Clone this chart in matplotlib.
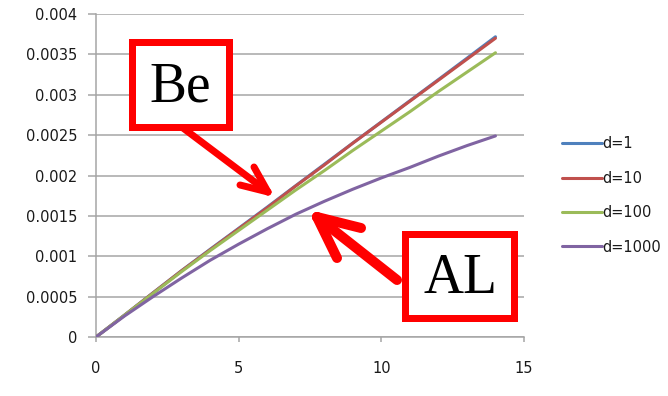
import matplotlib
matplotlib.use("Agg")
import matplotlib.pyplot as plt
from matplotlib.lines import Line2D
from matplotlib.patches import Rectangle
import numpy as np

# Data
x = [0, 1, 2, 3, 4, 5, 6, 7, 8, 9, 10, 11, 12, 13, 14]
d1 = [0, 0.000272, 0.000548, 0.000822, 0.001086, 0.001346, 0.001608, 0.001874,
      0.002138, 0.002402, 0.002664, 0.002926, 0.003188, 0.003452, 0.003718]
d10 = [0, 0.00027, 0.000546, 0.00082, 0.00108, 0.00134, 0.0016, 0.00187,
       0.00213, 0.0024, 0.00266, 0.00292, 0.00318, 0.00344, 0.0037]
d100 = [0, 0.00027, 0.00054, 0.00081, 0.00107, 0.00132, 0.00157, 0.00182,
        0.00206, 0.00231, 0.00255, 0.00279, 0.00304, 0.00328, 0.00352]
d1000 = [0, 0.00026, 0.0005, 0.00073, 0.00095, 0.00115, 0.00134, 0.00152,
         0.00168, 0.00183, 0.00197, 0.0021, 0.00224, 0.00237, 0.00249]
labels = ["d=1", "d=10", "d=100", "d=1000"]
colors = ["#4F81BD", "#C0504D", "#9BBB59", "#8064A2"]

xticks = [0, 5, 10, 15]
yticks = [0, 0.0005, 0.001, 0.0015, 0.002, 0.0025, 0.003, 0.0035, 0.004]
yticklabels = ["0", "0.0005", "0.001", "0.0015", "0.002", "0.0025", "0.003", "0.0035", "0.004"]

W, H = 668, 396
fig = plt.figure(figsize=(W / 100, H / 100), dpi=100)
fig.patch.set_facecolor("white")


def fx(px):
    return px / W


def fy(py):
    return 1 - py / H


ax = fig.add_axes([fx(96), fy(337), fx(524) - fx(96), fy(14) - fy(337)])

grid_c = "#a5a5a5"
text_c = "#1a1a1a"

for series, lab, c in zip([d1, d10, d100, d1000], labels, colors):
    ax.plot(x, series, color=c, lw=2.2, label=lab, solid_capstyle="round", zorder=3)

ax.set_xlim(0, 15)
ax.set_ylim(0, 0.004)
ax.set_xticks(xticks)
ax.set_xticklabels([str(t) for t in xticks])
ax.set_yticks(yticks)
ax.set_yticklabels(yticklabels)
ax.yaxis.grid(True, color=grid_c, lw=1.1)
ax.set_axisbelow(True)
for s in ["top", "right"]:
    ax.spines[s].set_visible(False)
for s in ["left", "bottom"]:
    ax.spines[s].set_color(grid_c)
    ax.spines[s].set_linewidth(1.1)
ax.tick_params(axis="y", direction="out", length=5.8, width=1.1, color=grid_c,
               pad=7.7, labelsize=10.5, labelcolor=text_c)
ax.tick_params(axis="x", direction="out", length=3.6, width=1.1, color=grid_c,
               pad=13.5, labelsize=10.5, labelcolor=text_c)

leg = fig.legend(loc="center left", bbox_to_anchor=(fx(562), fy(195.5)),
                 frameon=False, fontsize=10.5, handlelength=2.74,
                 handletextpad=0.0, labelspacing=1.33, borderpad=0,
                 borderaxespad=0)
for t in leg.get_texts():
    t.set_color(text_c)
for h in leg.legend_handles:
    h.set_linewidth(2.2)

# Callout boxes with labels
red = "#FF0000"
box_lw = 7 * 72 / 100


def callout(x0, y0, x1, y1, text, tx, ty):
    rect = Rectangle((fx(x0), fy(y1)), fx(x1) - fx(x0), fy(y0) - fy(y1),
                     transform=fig.transFigure, facecolor="white",
                     edgecolor=red, lw=box_lw, joinstyle="miter", zorder=10)
    fig.add_artist(rect)
    fig.text(fx(tx), fy(ty), text, family="Liberation Serif", fontsize=40,
             color="black", ha="center", va="center", zorder=11)


def arrow(tail, tip, arm1, arm2, width_px):
    lw = width_px * 72 / 100
    for a, b in [(tail, tip), (arm1, tip), (arm2, tip)]:
        ln = Line2D([fx(a[0]), fx(b[0])], [fy(a[1]), fy(b[1])],
                    transform=fig.transFigure, color=red, lw=lw,
                    solid_capstyle="round", solid_joinstyle="round", zorder=9)
        fig.add_artist(ln)


callout(131.5, 42.5, 228.5, 126.5, "Be", 180, 87)
arrow((183, 128), (268, 192), (240, 185), (254, 167), 7)

callout(405.2, 234.5, 514.2, 318.2, "AL", 460, 279)
arrow((397, 280), (317, 217), (361, 228), (337, 258), 10)

fig.savefig("out.png", dpi=100, facecolor="white")
